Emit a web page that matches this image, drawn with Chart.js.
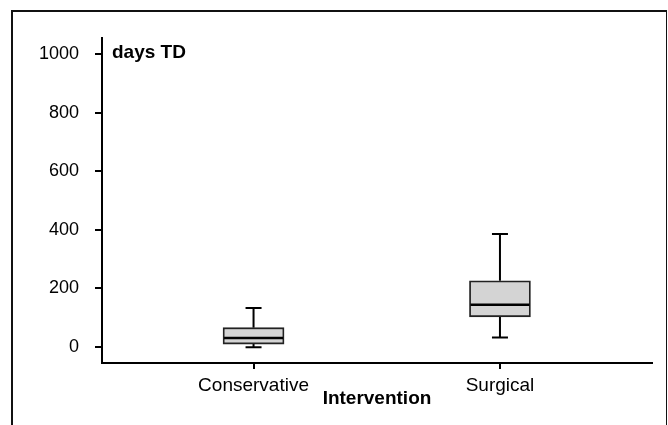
<!DOCTYPE html>
<html>
<head>
<meta charset="utf-8">
<script src="https://cdn.jsdelivr.net/npm/chart.js@4.4.0/dist/chart.umd.min.js"></script>
<style>
  html, body { margin: 0; padding: 0; background: #fff; }
  #wrap { position: relative; width: 668px; height: 425px; overflow: hidden; }
  #frame { position: absolute; left: 11px; top: 10px; width: 653px; height: 430px;
           border-left: 2px solid #111; border-top: 2px solid #111; border-right: 1px solid #111; }
  canvas { position: absolute; left: 0; top: 0; }
</style>
</head>
<body>
<div id="wrap">
  <div id="frame"></div>
  <canvas id="c" width="668" height="425"></canvas>
</div>
<script>
// ---- data ----
const categories = ['Conservative', 'Surgical'];
const positions = [1, 2];
const minVals = [-2, 31];
const q1Vals = [9, 102];
const medianVals = [30, 143];
const q3Vals = [65, 225];
const maxVals = [132, 385];
const yTicks = [0, 200, 400, 600, 800, 1000];
const yTitle = 'days TD';
const xTitle = 'Intervention';

const BOX_W = 61;
const CAP_W = 16;

const boxPlugin = {
  id: 'boxParts',
  beforeDatasetsDraw(chart) {
    const { ctx, scales: { x, y } } = chart;
    ctx.save();
    ctx.strokeStyle = '#000';
    ctx.lineWidth = 2;
    positions.forEach((p, i) => {
      const px = x.getPixelForValue(p);
      const pMin = y.getPixelForValue(minVals[i]);
      const pMax = y.getPixelForValue(maxVals[i]);
      const pQ1 = y.getPixelForValue(q1Vals[i]);
      const pQ3 = y.getPixelForValue(q3Vals[i]);
      ctx.beginPath();
      ctx.moveTo(px, pQ3); ctx.lineTo(px, pMax);
      ctx.moveTo(px - CAP_W / 2, pMax); ctx.lineTo(px + CAP_W / 2, pMax);
      ctx.moveTo(px, pQ1); ctx.lineTo(px, pMin);
      ctx.moveTo(px - CAP_W / 2, pMin); ctx.lineTo(px + CAP_W / 2, pMin);
      ctx.stroke();
    });
    ctx.restore();
  },
  afterDatasetsDraw(chart) {
    const { ctx, scales: { x, y } } = chart;
    ctx.save();
    ctx.strokeStyle = '#000';
    ctx.lineWidth = 2.5;
    positions.forEach((p, i) => {
      const px = x.getPixelForValue(p);
      const pm = y.getPixelForValue(medianVals[i]);
      ctx.beginPath();
      ctx.moveTo(px - BOX_W / 2 + 1, pm); ctx.lineTo(px + BOX_W / 2 - 1, pm);
      ctx.stroke();
    });
    ctx.restore();
  },
  afterDraw(chart) {
    const { ctx, chartArea } = chart;
    ctx.save();
    ctx.fillStyle = '#000';
    ctx.font = 'bold 19px "Liberation Sans", Arial, sans-serif';
    ctx.textAlign = 'left';
    ctx.textBaseline = 'alphabetic';
    ctx.fillText(yTitle, chartArea.left + 10, 58);
    ctx.restore();
  }
};

new Chart(document.getElementById('c'), {
  type: 'bar',
  data: {
    datasets: [{
      data: positions.map((p, i) => ({ x: p, y: [q1Vals[i], q3Vals[i]] })),
      backgroundColor: '#d4d4d4',
      borderColor: '#222',
      borderWidth: 1.8,
      borderSkipped: false,
      barThickness: BOX_W
    }]
  },
  options: {
    responsive: false,
    animation: false,
    devicePixelRatio: 1,
    layout: { padding: { left: 0, right: 16, top: 38, bottom: 0 } },
    plugins: { legend: { display: false }, tooltip: { enabled: false } },
    scales: {
      x: {
        type: 'linear',
        offset: false,
        min: 0.385,
        max: 2.617,
        afterBuildTicks: s => { s.ticks = positions.map(v => ({ value: v })); },
        afterFit: s => { s.height = 62; },
        ticks: {
          callback: v => categories[positions.indexOf(v)] ?? '',
          color: '#000',
          font: { family: '"Liberation Sans", Arial, sans-serif', size: 19 },
          padding: 5,
          maxRotation: 0,
          autoSkip: false
        },
        grid: { offset: false, drawOnChartArea: false, drawTicks: true, tickLength: 6, color: '#000', lineWidth: 2 },
        border: { display: true, color: '#000', width: 2 },
        title: {
          display: true,
          text: xTitle,
          color: '#000',
          font: { family: '"Liberation Sans", Arial, sans-serif', size: 19, weight: 'bold' },
          padding: { top: 0, bottom: 15 }
        }
      },
      y: {
        type: 'linear',
        min: -55.7,
        max: 1054.7,
        afterBuildTicks: s => { s.ticks = yTicks.map(v => ({ value: v })); },
        afterFit: s => { s.width = 102; },
        ticks: {
          callback: v => String(v),
          color: '#000',
          font: { family: '"Liberation Sans", Arial, sans-serif', size: 18 },
          padding: 16
        },
        grid: { drawOnChartArea: false, drawTicks: true, tickLength: 7, color: '#000', lineWidth: 2 },
        border: { display: true, color: '#000', width: 2 }
      }
    }
  },
  plugins: [boxPlugin]
});
</script>
</body>
</html>
